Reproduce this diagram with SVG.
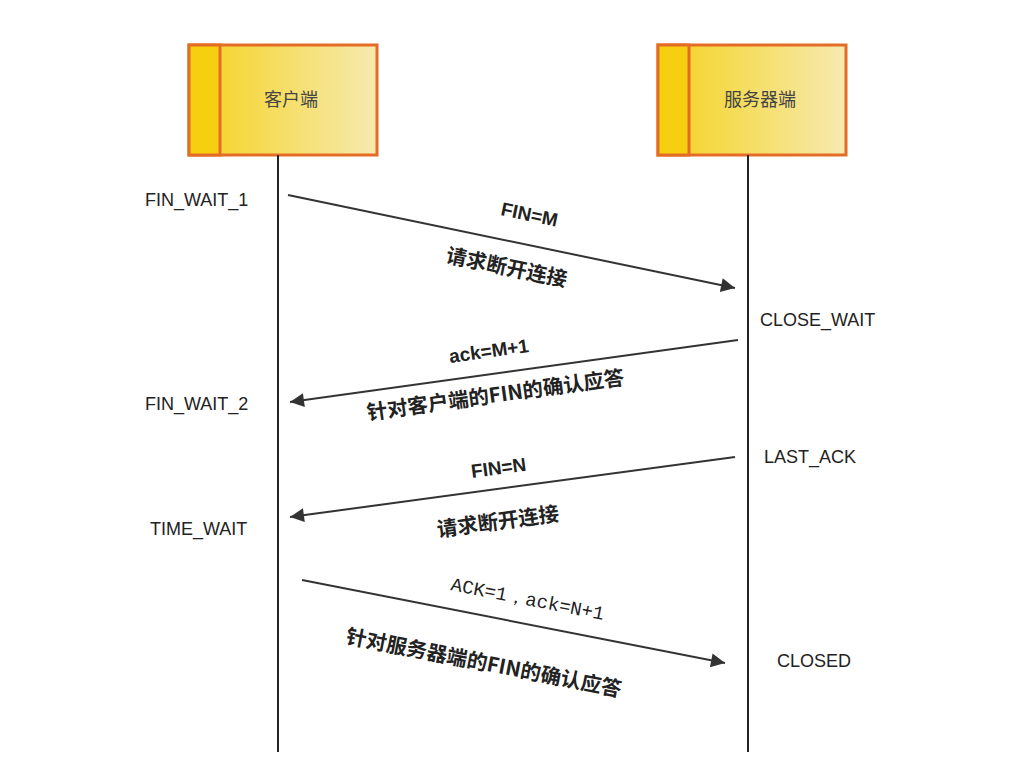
<svg xmlns="http://www.w3.org/2000/svg" width="1021" height="780" viewBox="0 0 1021 780">
<defs>
<linearGradient id="g" x1="0" x2="1" y1="0" y2="0"><stop offset="0" stop-color="#f5d21c"/><stop offset="1" stop-color="#f6eab0"/></linearGradient>
<marker id="a" viewBox="0 0 10 10" refX="10" refY="5" markerWidth="24" markerHeight="14" markerUnits="userSpaceOnUse" orient="auto"><path d="M0,0L10,5L0,10z" fill="#333"/></marker>
<style>
.box{fill:url(#g);stroke:#e46c24;stroke-width:3}
.strip{fill:#f5cf10;stroke:#e46c24;stroke-width:3}
.life{stroke:#222;stroke-width:2}
.c{stroke:#333;stroke-width:2;fill:none;marker-end:url(#a)}
.st{font-family:"Liberation Sans",Arial,sans-serif;font-size:18px;fill:#222}
.nm{font-family:"Liberation Sans","Noto Sans CJK SC",sans-serif;font-size:18px;fill:#444;text-anchor:middle}
.lb{font-family:"Liberation Sans","Noto Sans CJK SC",sans-serif;font-size:19px;font-weight:bold;fill:#222}
.cn{font-family:"Noto Sans CJK SC",sans-serif;font-size:20.5px;font-weight:600;fill:#222}
.mono{font-family:"Liberation Mono",monospace;font-size:19px;fill:#222}
</style>
</defs>
<rect width="1021" height="780" fill="#fff"/>
<g id="client">
<rect class="box" x="189" y="45" width="188" height="110"/>
<rect class="strip" x="189" y="45" width="31" height="110"/>
<text class="nm" x="291" y="106">客户端</text>
<line class="life" x1="278" y1="155" x2="278" y2="752"/>
</g>
<g id="server">
<rect class="box" x="658" y="45" width="188" height="110"/>
<rect class="strip" x="658" y="45" width="31" height="110"/>
<text class="nm" x="760" y="106">服务器端</text>
<line class="life" x1="748" y1="155" x2="748" y2="752"/>
</g>
<g id="states">
<text class="st" x="145" y="206">FIN_WAIT_1</text>
<text class="st" x="145" y="410">FIN_WAIT_2</text>
<text class="st" x="150" y="535">TIME_WAIT</text>
<text class="st" x="760" y="326">CLOSE_WAIT</text>
<text class="st" x="764" y="463">LAST_ACK</text>
<text class="st" x="777" y="667">CLOSED</text>
</g>
<g id="connectors">
<line class="c" x1="288" y1="195" x2="735" y2="288"/>
<line class="c" x1="738" y1="340" x2="290" y2="402"/>
<line class="c" x1="735" y1="457" x2="290" y2="517"/>
<line class="c" x1="302" y1="580" x2="725" y2="663"/>
</g>
<g id="labels">
<text class="lb" transform="translate(500,215) rotate(11.7)">FIN=M</text>
<text class="cn" transform="translate(445,262) rotate(11.7)">请求断开连接</text>
<text class="lb" transform="translate(450,363) rotate(-7.9)">ack=M+1</text>
<text class="cn" transform="translate(368,420) rotate(-7.9)">针对客户端的FIN的确认应答</text>
<text class="lb" transform="translate(472,478) rotate(-7.7)">FIN=N</text>
<text class="cn" transform="translate(438,537) rotate(-7.7)">请求断开连接</text>
<text class="mono" transform="translate(450,590) rotate(11.1)">ACK=1，ack=N+1</text>
<text class="cn" transform="translate(345,643) rotate(11.1)">针对服务器端的FIN的确认应答</text>
</g>
</svg>
